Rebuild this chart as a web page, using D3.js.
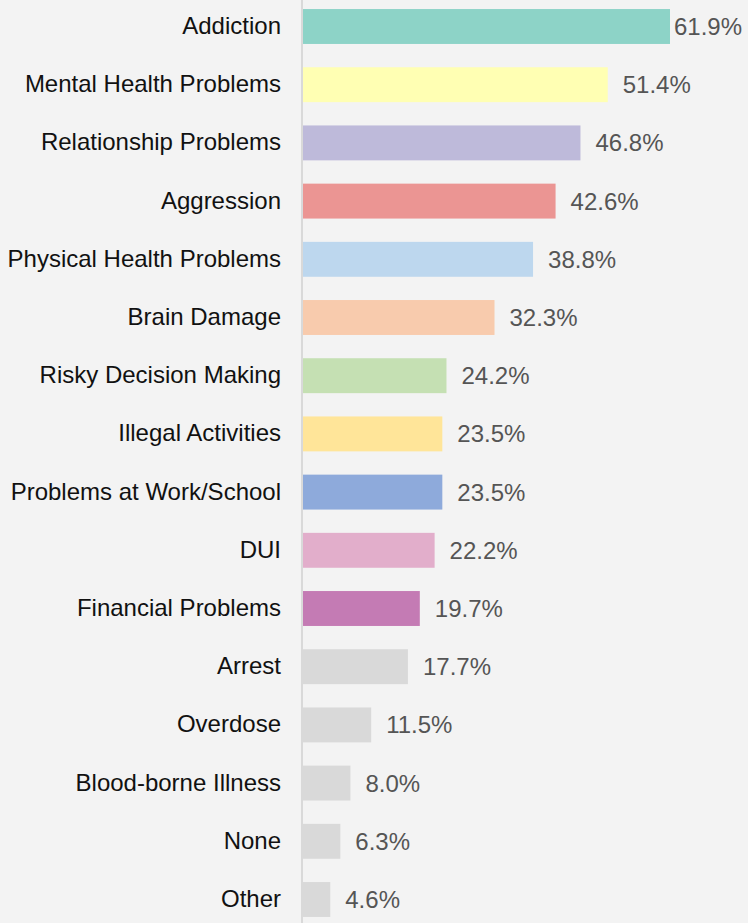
<!DOCTYPE html>
<html>
<head>
<meta charset="utf-8">
<script src="https://cdn.jsdelivr.net/npm/d3@7"></script>
<style>
  html, body { margin: 0; padding: 0; background: #f3f3f3; }
  svg { display: block; }
  text { font-family: "Liberation Sans", Arial, sans-serif; }
</style>
</head>
<body>
<svg width="748" height="923"></svg>
<script>

var categories = ["Addiction", "Mental Health Problems", "Relationship Problems", "Aggression",
  "Physical Health Problems", "Brain Damage", "Risky Decision Making", "Illegal Activities",
  "Problems at Work/School", "DUI", "Financial Problems", "Arrest", "Overdose",
  "Blood-borne Illness", "None", "Other"];

var values = [61.9, 51.4, 46.8, 42.6, 38.8, 32.3, 24.2, 23.5, 23.5, 22.2, 19.7, 17.7, 11.5, 8.0, 6.3, 4.6];

var colors = ["#8dd3c7", "#ffffb3", "#bebada", "#eb9593", "#bdd7ee", "#f8cbad", "#c5e0b3",
  "#ffe599", "#8eaadb", "#e2aecb", "#c47bb4", "#d9d9d9", "#d9d9d9", "#d9d9d9", "#d9d9d9", "#d9d9d9"];

var data = categories.map(function(c, i) {
  return { name: c, value: values[i], color: colors[i] };
});

var svg = d3.select("svg"),
    width = +svg.attr("width"),
    height = +svg.attr("height");

var left = 303;

var x = d3.scaleLinear()
    .domain([0, 61.9])
    .range([left, 670]);

var y = d3.scaleBand()
    .domain(categories)
    .range([-2.6, 928.6])
    .paddingInner(0.4)
    .paddingOuter(0.2);

// axis line
svg.append("line")
    .attr("x1", left - 1)
    .attr("x2", left - 1)
    .attr("y1", 0)
    .attr("y2", height)
    .attr("stroke", "#d9d9d9")
    .attr("stroke-width", 2);

var row = svg.selectAll(".row")
    .data(data)
  .enter().append("g")
    .attr("class", "row");

row.append("rect")
    .attr("x", x(0))
    .attr("y", function(d) { return y(d.name); })
    .attr("width", function(d) { return x(d.value) - x(0); })
    .attr("height", y.bandwidth())
    .attr("fill", function(d) { return d.color; });

row.append("text")
    .attr("x", 281)
    .attr("y", function(d) { return y(d.name) + y.bandwidth() / 2; })
    .attr("dy", "0.31em")
    .attr("text-anchor", "end")
    .style("font-size", "24px")
    .style("fill", "#111")
    .text(function(d) { return d.name; });

row.append("text")
    .attr("class", "val")
    .attr("y", function(d) { return y(d.name) + y.bandwidth() / 2; })
    .attr("dy", "0.35em")
    .style("font-size", "24px")
    .style("fill", "#555")
    .text(function(d) { return d.value.toFixed(1) + "%"; })
    .attr("x", function(d) {
      var w = this.getComputedTextLength();
      return Math.min(x(d.value) + 15, width - 6 - w);
    });

</script>
</body>
</html>
